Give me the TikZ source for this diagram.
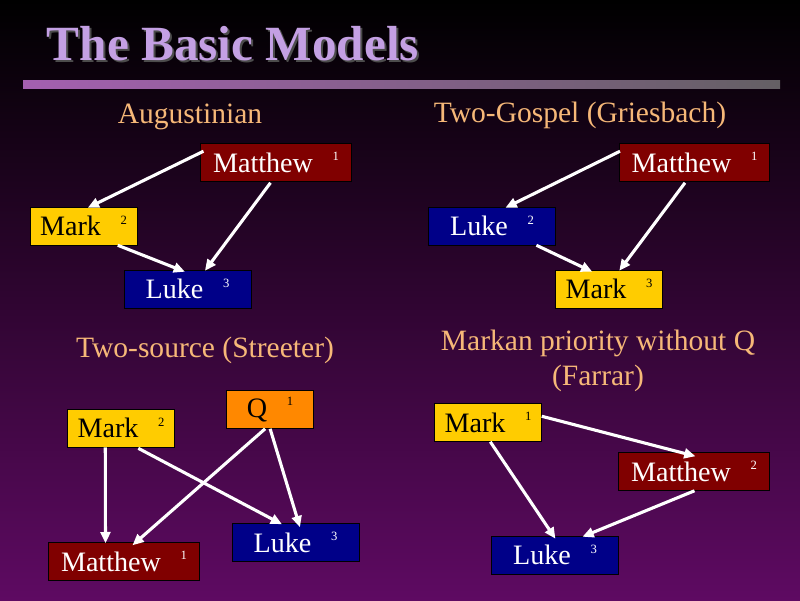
\documentclass[tikz,border=0pt]{standalone}
\usepackage{fontspec}
\setmainfont{Liberation Serif}
\usetikzlibrary{arrows.meta,calc}

\definecolor{bgtop}{RGB}{0,0,0}
\definecolor{bgbot}{RGB}{94,10,98}
\definecolor{titlecol}{RGB}{196,160,228}
\definecolor{headcol}{RGB}{246,184,120}
\definecolor{mattcol}{RGB}{128,0,0}
\definecolor{markcol}{RGB}{255,204,0}
\definecolor{lukecol}{RGB}{0,0,136}
\definecolor{qcol}{RGB}{255,136,0}

\tikzset{
  gospel/.style={draw=black, rectangle, inner sep=0pt, minimum height=27pt, font=\fontsize{20}{20}\selectfont},
  mattbox/.style={gospel, fill=mattcol, text=white, minimum width=107pt},
  markbox/.style={gospel, fill=markcol, text=black, minimum width=76pt},
  lukebox/.style={gospel, fill=lukecol, text=white, minimum width=90pt},
  qbox/.style={gospel, fill=qcol, text=black, minimum width=62pt},
  heading/.style={text=headcol, font=\fontsize{21}{21}\selectfont},
  link/.style={draw=white, line width=2.2pt, -{Triangle[open, length=8pt, width=7pt, fill=white]}},
}
\newcommand{\num}[2]{#1\hspace{14pt}\raisebox{8pt}{\fontsize{9}{9}\selectfont #2}}

\begin{document}
\begin{tikzpicture}[x=0.025cm, y=-0.025cm]
  % background
  \shade[top color=bgtop, bottom color=bgbot] (0,0) rectangle (800,600);
  \useasboundingbox (0,0) rectangle (800,600);

  % title and bar
  \node[anchor=base west, text=black!70, font=\bfseries\fontsize{35}{35}\selectfont] (shadow) at (44,62) {The Basic Models};
  \node[anchor=base west, text=titlecol, font=\bfseries\fontsize{35}{35}\selectfont] (title) at (42,60) {The Basic Models};
  \shade[left color={rgb,255:red,164;green,96;blue,176}, right color={rgb,255:red,100;green,96;blue,100}] (23,80) rectangle (780,88);

  % Augustinian
  \node[heading] (hA) at (190,117) {Augustinian};
  \node[mattbox] (mtA) at (276,162.5) {\num{Matthew}{1}};
  \node[markbox] (mkA) at (83.5,226) {\num{Mark}{2}};
  \node[lukebox] (lkA) at (187.5,289) {\num{Luke}{3}};
  \draw[link] ($(mtA.north west)+(3,8)$) -- ($(mkA.north west)+(58,1)$);
  \draw[link] ($(mtA.south west)+(70,1)$) -- ($(lkA.north west)+(81,1)$);
  \draw[link] ($(mkA.south west)+(88,0)$) -- ($(lkA.north west)+(61,2)$);

  % Two-Gospel
  \node[heading] (hB) at (580,115) {Two-Gospel (Griesbach)};
  \node[mattbox] (mtB) at (694.5,162.5) {\num{Matthew}{1}};
  \node[lukebox] (lkB) at (492,226) {\num{Luke}{2}};
  \node[markbox] (mkB) at (609,289) {\num{Mark}{3}};
  \draw[link] ($(mtB.north west)+(1,8)$) -- ($(lkB.north west)+(77,1)$);
  \draw[link] ($(mtB.south west)+(66,1)$) -- ($(mkB.north west)+(64,1)$);
  \draw[link] ($(lkB.south west)+(108,0)$) -- ($(mkB.north west)+(37,2)$);

  % Two-source
  \node[heading] (hC) at (205,350) {Two-source (Streeter)};
  \node[markbox] (mkC) at (121,428) {\num{Mark}{2}};
  \node[qbox] (qC) at (270,409.5) {\num{Q}{1}};
  \node[lukebox] (lkC) at (295.5,542.5) {\num{Luke}{3}};
  \node[mattbox] (mtC) at (124,561.5) {\num{Matthew}{1}};
  \draw[link] ($(mkC.south west)+(38,0)$) -- ($(mtC.north west)+(57,1)$);
  \draw[link] ($(mkC.south west)+(71,1)$) -- ($(lkC.north west)+(50,1)$);
  \draw[link] ($(qC.south west)+(39,0)$) -- ($(mtC.north west)+(84,3)$);
  \draw[link] ($(qC.south west)+(44,0)$) -- ($(lkC.north west)+(68,4)$);

  % Markan priority
  \node[heading] (hD) at (598,343) {Markan priority without Q};
  \node[heading] (hD2) at (598,378) {(Farrar)};
  \node[markbox] (mkD) at (488,422.5) {\num{Mark}{1}};
  \node[mattbox] (mtD) at (694,471.5) {\num{Matthew}{2}};
  \node[lukebox] (lkD) at (555,555) {\num{Luke}{3}};
  \draw[link] ($(mkD.north east)+(0,13)$) -- ($(mtD.north west)+(77,4)$);
  \draw[link] ($(mkD.south west)+(56,0)$) -- ($(lkD.north west)+(64,3)$);
  \draw[link] ($(mtD.south west)+(76,0)$) -- ($(lkD.north west)+(91,1)$);
\end{tikzpicture}
\end{document}
